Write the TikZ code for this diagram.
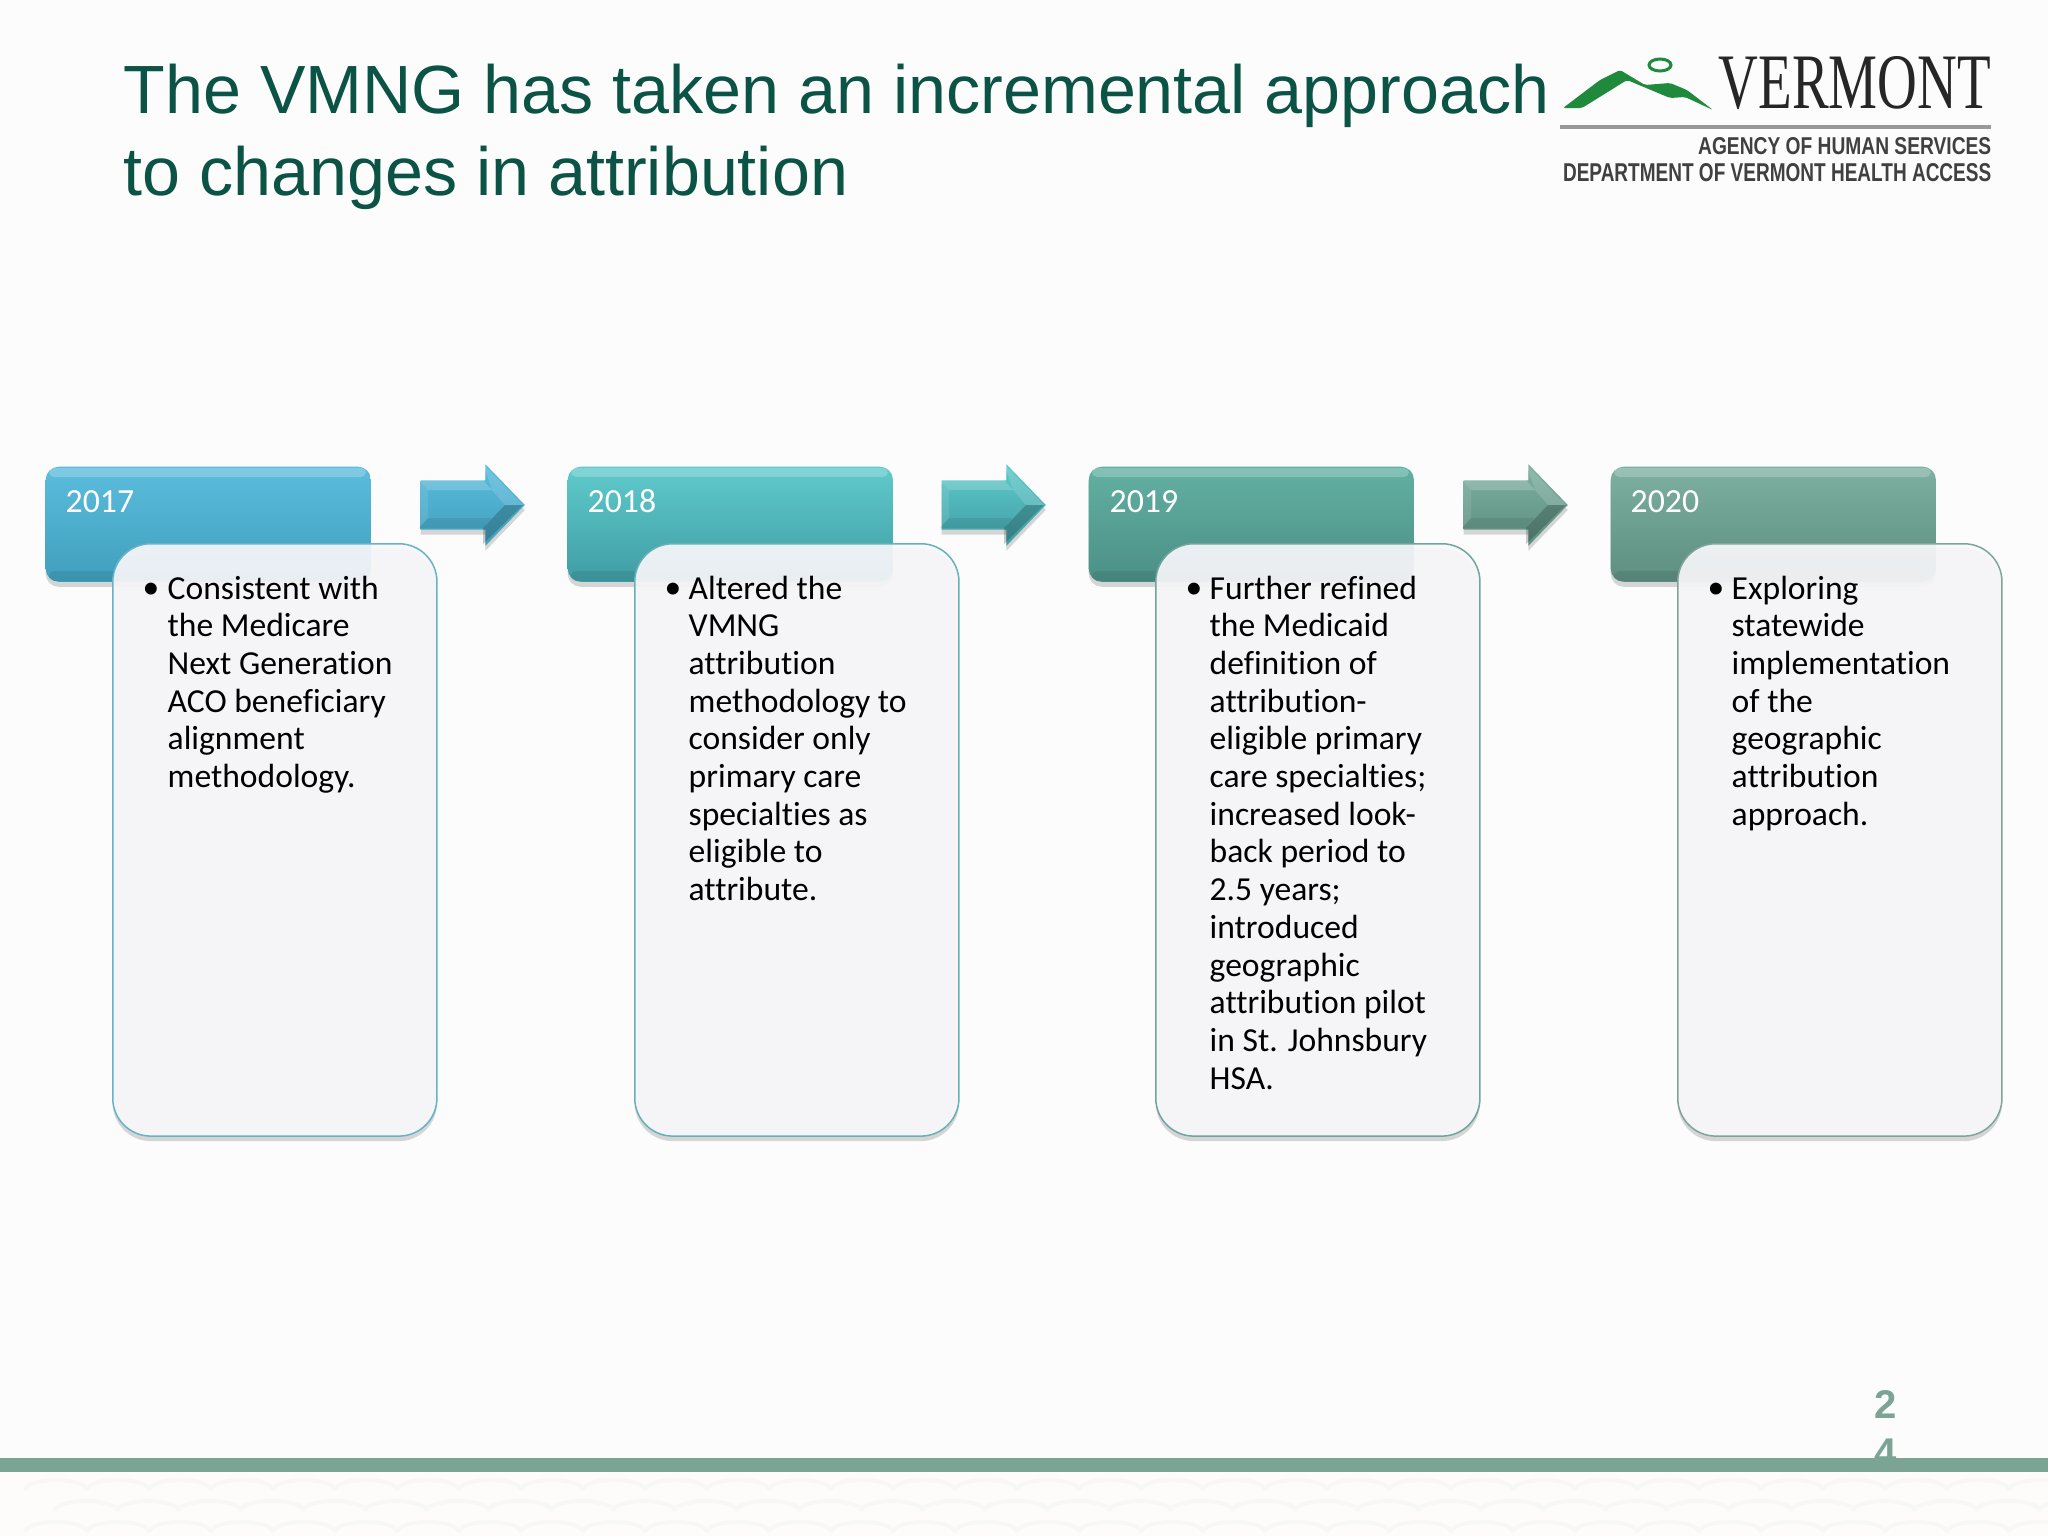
\documentclass[tikz,border=0pt]{standalone}
\usepackage{fontspec}
\setmainfont[Ligatures=NoCommon]{Carlito}
\newfontfamily\titlefont{Liberation Sans}
\newfontfamily\logofont{Liberation Serif}
\usetikzlibrary{shapes.arrows}
\usetikzlibrary{shadows}

\definecolor{titlegreen}{HTML}{0B5345}
\definecolor{bargreen}{HTML}{7BA494}
\definecolor{logogreen}{HTML}{1F8A3C}
\definecolor{cardfill}{HTML}{F8F8FB}

\tikzset{
    softshadow/.style={drop shadow={shadow xshift=0cm, shadow yshift=-.05cm, opacity=.22, fill=black!70}},
    yearbox/.style={rectangle, rounded corners=.13cm, minimum width=3.25cm, minimum height=1.15cm,
        anchor=north west, softshadow},
    yeartext/.style={anchor=west, inner sep=0, text=white, font=\fontsize{9.6}{11}\selectfont},
    cardbox/.style={rectangle, rounded corners=.38cm, minimum width=3.24cm, minimum height=5.92cm,
        anchor=north west, line width=.015cm, fill=cardfill, fill opacity=.92, softshadow},
    cardtext/.style={anchor=north west, inner sep=0, align=left, text=black,
        font=\fontsize{9.55}{10.72}\selectfont},
    dotnode/.style={anchor=north west, inner sep=0, text=black, font=\fontsize{9.55}{10.72}\selectfont},
    steparrow/.style={single arrow, inner sep=0, minimum height=1.04cm,
        single arrow head extend=.16cm, single arrow tip angle=92, anchor=west, softshadow},
    facets/.pic={
        \fill[white, opacity=.18] (0, 480) -- (64, 480) -- (73, 490) -- (9, 490) -- cycle;
        \fill[white, opacity=.1] (0, 480) -- (9, 490) -- (9, 518) -- (0, 528) -- cycle;
        \fill[white, opacity=.14] (64, 464) -- (104, 505) -- (86, 505) -- (73, 490) -- cycle;
        \fill[black, opacity=.2] (104, 505) -- (64, 544) -- (64, 528) -- (86, 505) -- cycle;
        \fill[black, opacity=.08] (0, 528) -- (64, 528) -- (72, 518) -- (9, 518) -- cycle;
    },
}

\begin{document}
\begin{tikzpicture}[x=.01cm, y=-.01cm]
    \useasboundingbox (0, 0) rectangle (2048, 1536);
    \fill[white!99!black] (0, 0) rectangle (2048, 1536);

    % footer band
    \fill[white!98!brown] (0, 1472) rectangle (2048, 1536);
    \foreach \x in {25, 87, ..., 2048} {
        \draw[black!3, line width=.04cm] (\x, 1490) arc [start angle=180, end angle=0, x radius=31, y radius=-10];
        \draw[black!3, line width=.04cm] (\x + 30, 1511) arc [start angle=180, end angle=0, x radius=31, y radius=-10];
        \draw[black!3, line width=.04cm] (\x, 1532) arc [start angle=180, end angle=0, x radius=31, y radius=-10];
    }

    \node[anchor=north west, inner sep=0, align=left, text=titlegreen,
        font=\titlefont\fontsize{19.4}{23.4}\selectfont] (title) at (123, 63)
        {The VMNG has taken an incremental approach\\to changes in attribution};

    % logo
    \fill[logogreen, rounded corners=.02cm] (1563, 108) -- (1600, 80) -- (1620, 70) -- (1645, 85)
        -- (1670, 83) -- (1687, 90) -- (1713, 110) -- (1685, 97) -- (1670, 98) -- (1627, 80) -- (1582, 108) -- cycle;
    \draw[logogreen, line width=.03cm] (1660, 65) ellipse [x radius=11, y radius=6];
    \node[anchor=south west, inner sep=0, text=black!85, font=\logofont] (logoname) at (1718, 110)
        {\resizebox{2.72cm}{.52cm}{VERMONT}};
    \draw[black!40, line width=.04cm] (1560, 127) to (1991, 127);
    \node[anchor=south east, inner sep=0, text=black!75, font=\titlefont\bfseries] (logoagency) at (1992, 155)
        {\resizebox{2.93cm}{.17cm}{AGENCY OF HUMAN SERVICES}};
    \node[anchor=south east, inner sep=0, text=black!75, font=\titlefont\bfseries] (logodept) at (1992, 182)
        {\resizebox{4.28cm}{.18cm}{DEPARTMENT OF VERMONT HEALTH ACCESS}};

    % 2017
    \definecolor{toptone}{HTML}{5BBCDD}
    \definecolor{lowtone}{HTML}{409FBC}
    \node[yearbox, top color=toptone, bottom color=lowtone] (box17) at (45, 466) {};
    \fill[white, opacity=.22, rounded corners=.05cm] (49, 468) rectangle (366, 477);
    \fill[black, opacity=.08, rounded corners=.05cm] (49, 571) rectangle (366, 581);
    \node[yeartext] (year17) at (65, 502) {2017};
    \node[cardbox, draw=lowtone!80!white] (card17) at (112, 543) {};
    \node[dotnode] (dot17) at (142, 582) {•};
    \node[cardtext] (text17) at (167, 575) {Consistent with\\the Medicare\\Next Generation\\ACO beneficiary\\alignment\\methodology.};

    \node[steparrow, top color=toptone, bottom color=lowtone] (arrow17) at (420, 505) {\rule{0pt}{.48cm}};
    \pic at (419, 0) {facets};

    % 2018
    \definecolor{toptone}{HTML}{5FCACB}
    \definecolor{lowtone}{HTML}{3F9DA4}
    \node[yearbox, top color=toptone, bottom color=lowtone] (box18) at (567, 466) {};
    \fill[white, opacity=.22, rounded corners=.05cm] (571, 468) rectangle (888, 477);
    \fill[black, opacity=.08, rounded corners=.05cm] (571, 571) rectangle (888, 581);
    \node[yeartext] (year18) at (587, 501) {2018};
    \node[cardbox, draw=lowtone!80!white] (card18) at (634, 543) {};
    \node[dotnode] (dot18) at (664, 582) {•};
    \node[cardtext] (text18) at (688, 575) {Altered the\\VMNG\\attribution\\methodology to\\consider only\\primary care\\specialties as\\eligible to\\attribute.};

    \node[steparrow, top color=toptone, bottom color=lowtone] (arrow18) at (941, 505) {\rule{0pt}{.48cm}};
    \pic at (940, 0) {facets};

    % 2019
    \definecolor{toptone}{HTML}{62B0A2}
    \definecolor{lowtone}{HTML}{4B8F86}
    \node[yearbox, top color=toptone, bottom color=lowtone] (box19) at (1088, 466) {};
    \fill[white, opacity=.22, rounded corners=.05cm] (1092, 468) rectangle (1409, 477);
    \fill[black, opacity=.08, rounded corners=.05cm] (1092, 571) rectangle (1409, 581);
    \node[yeartext] (year19) at (1109, 502) {2019};
    \node[cardbox, draw=lowtone!80!white] (card19) at (1155, 543) {};
    \node[dotnode] (dot19) at (1185, 582) {•};
    \node[cardtext] (text19) at (1209, 575) {Further refined\\the Medicaid\\definition of\\attribution-\\eligible primary\\care specialties;\\increased look-\\back period to\\2.5 years;\\introduced\\geographic\\attribution pilot\\in St. Johnsbury\\HSA.};

    \definecolor{toptone}{HTML}{7DB0A0}
    \definecolor{lowtone}{HTML}{5D8E80}
    \node[steparrow, top color=toptone, bottom color=lowtone] (arrow19) at (1463, 505) {\rule{0pt}{.48cm}};
    \pic at (1462, 0) {facets};

    % 2020
    \node[yearbox, top color=toptone, bottom color=lowtone] (box20) at (1610, 466) {};
    \fill[white, opacity=.22, rounded corners=.05cm] (1614, 468) rectangle (1931, 477);
    \fill[black, opacity=.08, rounded corners=.05cm] (1614, 571) rectangle (1931, 581);
    \node[yeartext] (year20) at (1630, 502) {2020};
    \node[cardbox, draw=lowtone!80!white] (card20) at (1677, 543) {};
    \node[dotnode] (dot20) at (1707, 582) {•};
    \node[cardtext] (text20) at (1731, 575) {Exploring\\statewide\\implementation\\of the\\geographic\\attribution\\approach.};

    % page number runs under the bar
    \node[anchor=north, inner sep=0, align=center, text=bargreen,
        font=\titlefont\bfseries\fontsize{11.4}{13.6}\selectfont] (pagenum) at (1886, 1390) {2\\4};
    \fill[bargreen] (0, 1458) rectangle (2048, 1472);
\end{tikzpicture}
\end{document}
